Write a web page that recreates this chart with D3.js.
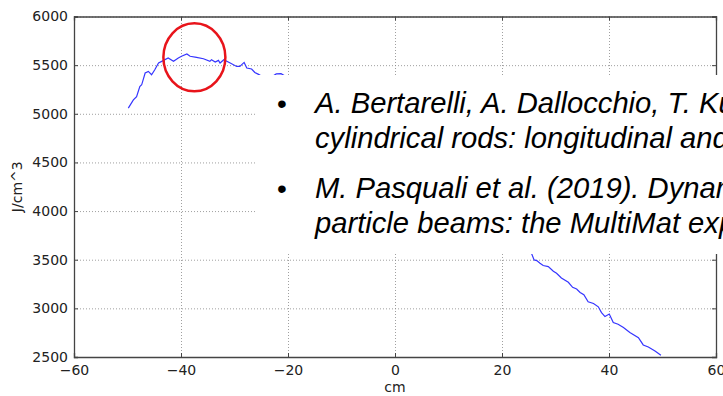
<!DOCTYPE html>
<html>
<head>
<meta charset="utf-8">
<script src="https://cdn.jsdelivr.net/npm/d3@7"></script>
<style>
  body { margin: 0; background: #fff; }
  svg { display: block; }
</style>
</head>
<body>
<div id="chart"></div>
<script>
// data (middle part is behind the text box)
var xVals = [-49.85, -48.9, -48.3, -47.7, -47.35, -46.7, -46.1, -45.5, -44.9, -44.2, -43.6, -42.4, -41.4,
  -40.5, -39.9, -38.9, -38.3, -37.1, -35.8, -34.6, -34.3, -33.6, -33.0, -32.7, -32.0, -30.8, -29.6,
  -29.0, -28.2, -27.7, -26.8, -26.2, -25.5, -24.5, -23.0, -22.2, -21.3, -20.5,
  25.55, 26.0, 26.5, 27.1, 27.7, 28.65, 29.6, 30.2, 31.1, 32.4, 33.2, 33.95, 34.6, 35.3, 36.1, 37.1,
  38.0, 38.6, 39.25, 40.05, 40.8, 41.7, 42.7, 43.9, 45.5, 46.4, 47.35, 48.6, 49.7];
var yVals = [5058, 5143, 5177, 5280, 5298, 5419, 5436, 5401, 5453, 5522, 5539, 5574, 5539,
  5574, 5591, 5615, 5591, 5580, 5566, 5539, 5556, 5532, 5549, 5522, 5556, 5522, 5487,
  5487, 5528, 5470, 5460, 5425, 5405, 5370, 5380, 5410, 5412, 5385,
  3560, 3498, 3491, 3463, 3440, 3429, 3381, 3360, 3312, 3268, 3216, 3199, 3164, 3140, 3068, 3050,
  3016, 2957, 2916, 2941, 2854, 2837, 2803, 2751, 2699, 2624, 2603, 2562, 2518];

var xTicks = [-60, -40, -20, 0, 20, 40, 60];
var yTicks = [2500, 3000, 3500, 4000, 4500, 5000, 5500, 6000];

var refLines = [
  "A. Bertarelli, A. Dallocchio, T. Kurtyka (2008). Dynamic response of rapidly heated",
  "cylindrical rods: longitudinal and flexural excitations",
  "M. Pasquali et al. (2019). Dynamic response of advanced materials impacted by",
  "particle beams: the MultiMat experiment"
];

var svgWidth = 723;
var svgHeight = 396;
var margin = { top: 16.5, right: 7, bottom: 39, left: 74 };
var width = svgWidth - margin.left - margin.right;
var height = svgHeight - margin.top - margin.bottom;

var svg = d3.select("#chart").append("svg")
  .attr("width", svgWidth)
  .attr("height", svgHeight);

var g = svg.append("g")
  .attr("transform", `translate(${margin.left}, ${margin.top})`);

var xScale = d3.scaleLinear().domain([-60, 60]).range([0, width]);
var yScale = d3.scaleLinear().domain([2500, 6000]).range([height, 0]);

// grid
g.append("g")
  .attr("transform", `translate(0, ${height})`)
  .call(d3.axisBottom(xScale).tickValues(xTicks).tickSize(-height).tickFormat(""))
  .call(s => s.select(".domain").remove())
  .selectAll("line")
  .attr("stroke", "#888").attr("stroke-width", 0.8).attr("stroke-dasharray", "1,2");
g.append("g")
  .call(d3.axisLeft(yScale).tickValues(yTicks).tickSize(-width).tickFormat(""))
  .call(s => s.select(".domain").remove())
  .selectAll("line")
  .attr("stroke", "#888").attr("stroke-width", 0.8).attr("stroke-dasharray", "1,2");

// data line
var pts = xVals.map((x, i) => [x, yVals[i]]);
var line = d3.line().x(d => xScale(d[0])).y(d => yScale(d[1]));
g.append("path")
  .datum(pts)
  .attr("d", line)
  .attr("fill", "none")
  .attr("stroke", "#3535ff")
  .attr("stroke-width", 1.2);

// axes with inward ticks
var bottomAxis = d3.axisBottom(xScale).tickValues(xTicks).tickSize(-4).tickPadding(8)
  .tickFormat(d => d < 0 ? "\u2212" + Math.abs(d) : d);
var leftAxis = d3.axisLeft(yScale).tickValues(yTicks).tickSize(-4).tickPadding(6)
  .tickFormat(d3.format("d"));

g.append("g").attr("transform", `translate(0, ${height})`).call(bottomAxis);
g.append("g").call(leftAxis);
g.append("g").call(d3.axisTop(xScale).tickValues(xTicks).tickSize(-4).tickFormat(""));
g.append("g").attr("transform", `translate(${width}, 0)`)
  .call(d3.axisRight(yScale).tickValues(yTicks).tickSize(-4).tickFormat(""));

g.selectAll(".domain").attr("stroke", "#444").attr("stroke-width", 1.3);
g.selectAll(".tick line").filter(function() { return !this.getAttribute("stroke-dasharray"); })
  .attr("stroke", "#444");
g.selectAll(".tick text")
  .style("font-family", "DejaVu Sans")
  .style("font-size", "14px")
  .attr("fill", "#222");

// axis labels
svg.append("text")
  .attr("x", margin.left + xScale(0))
  .attr("y", 392)
  .style("text-anchor", "middle")
  .style("font-family", "DejaVu Sans")
  .style("font-size", "14px")
  .attr("fill", "#222")
  .text("cm");
svg.append("text")
  .attr("transform", "rotate(-90)")
  .attr("x", -(margin.top + height / 2))
  .attr("y", 22)
  .style("text-anchor", "middle")
  .style("font-family", "DejaVu Sans")
  .style("font-size", "14px")
  .attr("fill", "#222")
  .text("J/cm^3");

// red circle annotation
svg.append("ellipse")
  .attr("cx", margin.left + xScale(-37.5))
  .attr("cy", margin.top + yScale(5580))
  .attr("rx", 31)
  .attr("ry", 34)
  .attr("fill", "none")
  .attr("stroke", "#e8141b")
  .attr("stroke-width", 2.5);

// white text box over the chart
svg.append("rect")
  .attr("x", 257).attr("y", 75)
  .attr("width", 470).attr("height", 179)
  .attr("fill", "#fff");

var baselines = [113, 147.5, 198, 232.5];
refLines.forEach(function(t, i) {
  svg.append("text")
    .attr("x", 315)
    .attr("y", baselines[i])
    .style("font-family", "Liberation Sans, Arial, sans-serif")
    .style("font-style", "italic")
    .style("font-size", "29.2px")
    .attr("fill", "#000")
    .text(t);
});
[113, 198].forEach(function(b) {
  svg.append("text")
    .attr("x", 282)
    .attr("y", b)
    .style("text-anchor", "middle")
    .style("font-family", "Liberation Sans, Arial, sans-serif")
    .style("font-size", "28px")
    .attr("fill", "#000")
    .text("\u2022");
});
</script>
</body>
</html>
